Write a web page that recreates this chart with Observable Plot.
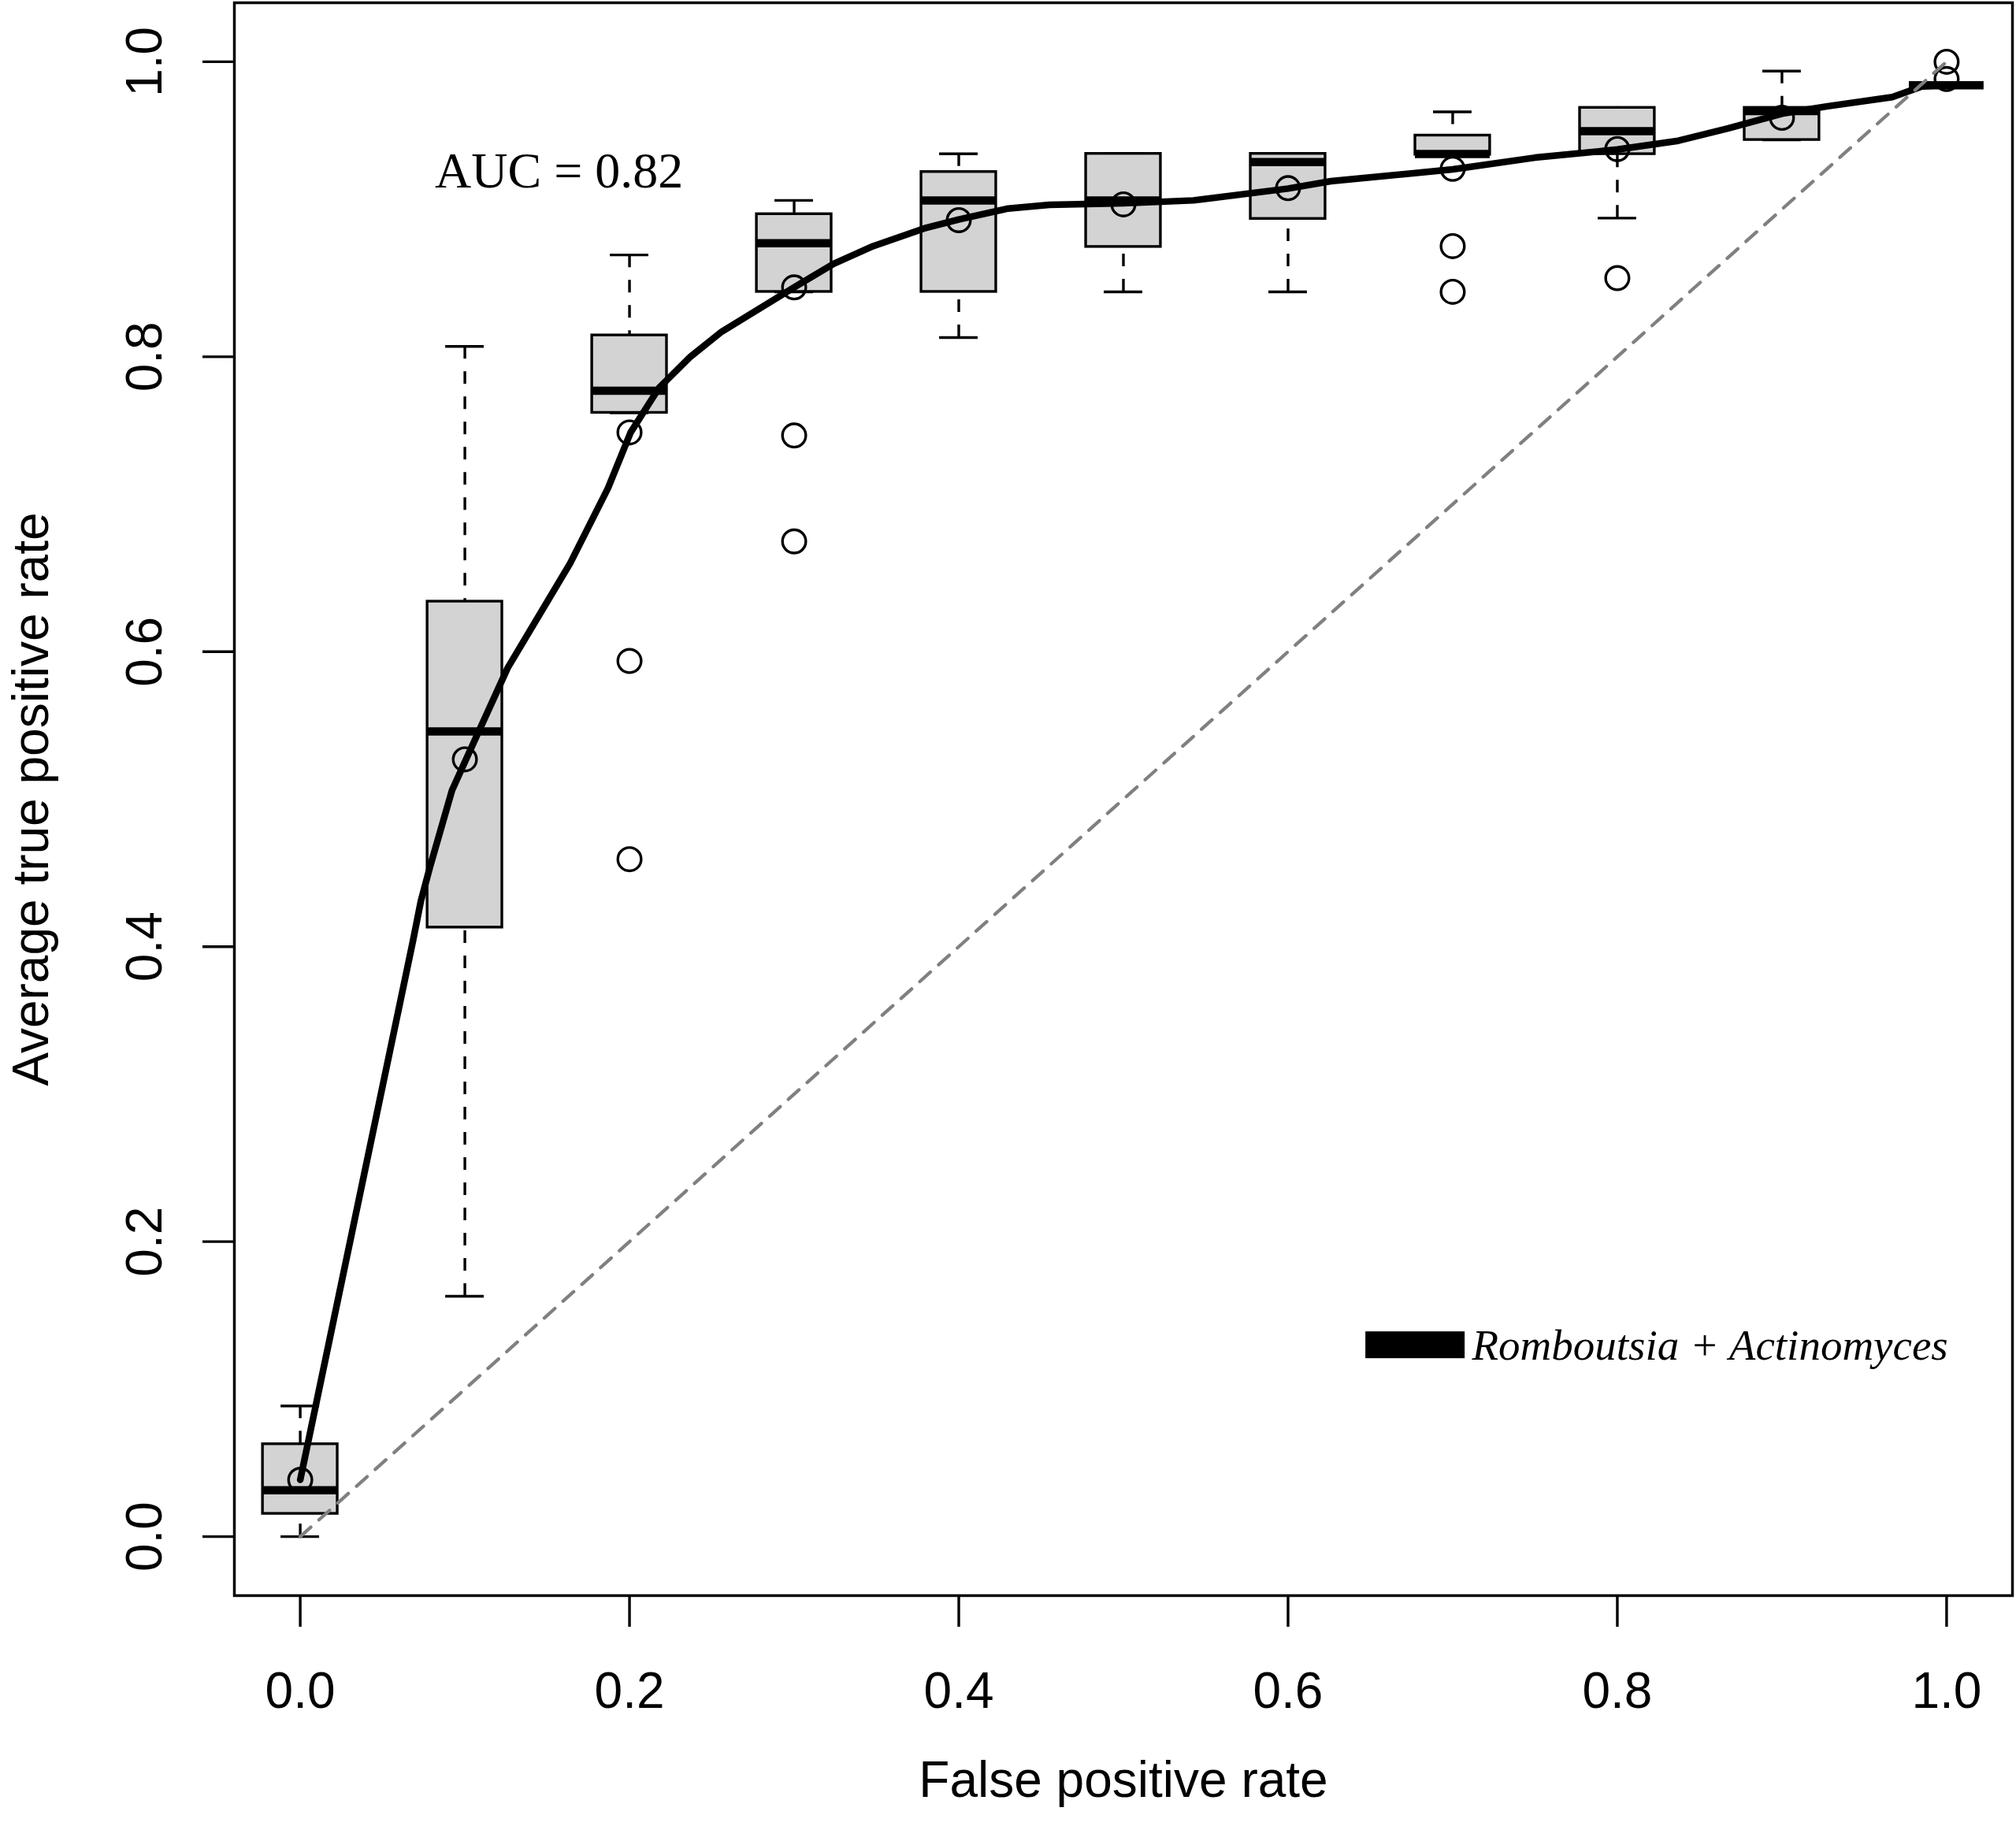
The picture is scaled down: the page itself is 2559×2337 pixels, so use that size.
<!DOCTYPE html>
<html>
<head>
<meta charset="utf-8">
<script src="https://cdn.jsdelivr.net/npm/d3@7"></script>
<script src="https://cdn.jsdelivr.net/npm/@observablehq/plot@0.6"></script>
<style>
  html, body { margin: 0; padding: 0; background: #fff; }
  #chart svg { display: block; }
</style>
</head>
<body>
<div id="chart"></div>
<script>
// ---- data ----
const fprLevels = [0.0, 0.1, 0.2, 0.3, 0.4, 0.5, 0.6, 0.7, 0.8, 0.9, 1.0];
const whiskerLow  = [0.000, 0.163, 0.762, 0.844, 0.813, 0.844, 0.844, 0.937, 0.894, 0.947, 0.984];
const boxQ1       = [0.0155, 0.413, 0.762, 0.844, 0.844, 0.8745, 0.8935, 0.937, 0.9374, 0.947, 0.984];
const boxMedian   = [0.0315, 0.546, 0.777, 0.877, 0.906, 0.906, 0.932, 0.9375, 0.953, 0.9665, 0.984];
const boxQ3       = [0.0627, 0.634, 0.8145, 0.8967, 0.9253, 0.9376, 0.9376, 0.950, 0.9688, 0.9688, 0.984];
const whiskerHigh = [0.0886, 0.807, 0.869, 0.906, 0.9376, 0.9376, 0.9376, 0.966, 0.9688, 0.9937, 0.984];
const meanTPR     = [0.0385, 0.527, 0.7487, 0.847, 0.8926, 0.9033, 0.9143, 0.9274, 0.9408, 0.962, 0.9883];

const outlierFPR = [0.2, 0.2, 0.3, 0.3, 0.7, 0.7, 0.8, 1.0];
const outlierTPR = [0.5937, 0.4593, 0.7466, 0.6748, 0.875, 0.844, 0.8533, 1.000];

const curveFPR = [0, 0.0685, 0.0733, 0.0788, 0.0922, 0.1007, 0.126, 0.164, 0.187, 0.2007,
  0.218, 0.237, 0.256, 0.3005, 0.324, 0.348, 0.379, 0.400, 0.430, 0.455, 0.500, 0.5425, 0.600, 0.626,
  0.700, 0.750, 0.800, 0.837, 0.867, 0.900, 0.927, 0.967, 0.985, 1.000];
const curveTPR = [0.0385, 0.404, 0.431, 0.454, 0.506, 0.527, 0.589, 0.660, 0.711, 0.7487,
  0.779, 0.800, 0.817, 0.8474, 0.863, 0.875, 0.887, 0.893, 0.9005, 0.903, 0.904, 0.906, 0.914, 0.919,
  0.927, 0.935, 0.9405, 0.9464, 0.9547, 0.9648, 0.9697, 0.976, 0.9832, 0.9843];

const diagFPR = [0, 1];
const diagTPR = [0, 1];

const tickValues = [0, 0.2, 0.4, 0.6, 0.8, 1.0];
const aucLabel = "AUC = 0.82";
const legendLabel = "Romboutsia + Actinomyces";
const xTitle = "False positive rate";
const yTitle = "Average true positive rate";

// ---- tables built from arrays ----
const boxes = fprLevels.map((x, i) => ({
  x, lo: whiskerLow[i], q1: boxQ1[i], med: boxMedian[i], q3: boxQ3[i], hi: whiskerHigh[i]
}));
const means = fprLevels.map((x, i) => ({x, y: meanTPR[i]}));
const outliers = outlierFPR.map((x, i) => ({x, y: outlierTPR[i]}));
const curve = curveFPR.map((x, i) => ({x, y: curveTPR[i]}));
const diag = diagFPR.map((x, i) => ({x, y: diagTPR[i]}));

const BW = 0.0227;   // half box width (data units)
const CW = 0.0117;   // half staple width
const LW = 3.4;      // base line width
const fmt = d3.format(".1f");

const chart = Plot.plot({
  width: 2559,
  height: 2337,
  marginLeft: 297,
  marginRight: 5,
  marginTop: 3,
  marginBottom: 312,
  x: {domain: [-0.04, 1.04]},
  y: {domain: [-0.04, 1.04]},
  style: {background: "#fff", fontFamily: "'Liberation Sans', Arial, Helvetica, sans-serif", color: "#000"},
  marks: [
    // boxes
    Plot.ruleX(boxes, {x: "x", y1: "hi", y2: "q3", stroke: "#000", strokeWidth: LW, strokeDasharray: "16,16"}),
    Plot.ruleX(boxes, {x: "x", y1: "lo", y2: "q1", stroke: "#000", strokeWidth: LW, strokeDasharray: "16,16"}),
    Plot.ruleY(boxes, {y: "hi", x1: d => d.x - CW, x2: d => d.x + CW, stroke: "#000", strokeWidth: LW}),
    Plot.ruleY(boxes, {y: "lo", x1: d => d.x - CW, x2: d => d.x + CW, stroke: "#000", strokeWidth: LW}),
    Plot.rect(boxes, {x1: d => d.x - BW, x2: d => d.x + BW, y1: "q1", y2: "q3", fill: "#d3d3d3", stroke: "#000", strokeWidth: LW}),
    Plot.ruleY(boxes, {y: "med", x1: d => d.x - BW, x2: d => d.x + BW, stroke: "#000", strokeWidth: 10.5}),
    Plot.dot(outliers, {x: "x", y: "y", r: 14.8, stroke: "#000", strokeWidth: LW, fill: "none"}),
    // mean curve
    Plot.line(curve, {x: "x", y: "y", stroke: "#000", strokeWidth: 8.5, strokeLinejoin: "round", strokeLinecap: "round"}),
    Plot.dot(means, {x: "x", y: "y", r: 14.8, stroke: "#000", strokeWidth: LW, fill: "none"}),
    // chance diagonal
    Plot.line(diag, {x: "x", y: "y", stroke: "#808080", strokeWidth: 4.3, strokeDasharray: "18,14"}),
    // annotations
    Plot.text([aucLabel], {x: 0.1572, y: 0.915, text: d => d, lineAnchor: "bottom", textAnchor: "middle",
      fontFamily: "'Liberation Serif', 'Times New Roman', serif", fontSize: 64, fill: "#000"}),
    Plot.rect([legendLabel], {x1: 0.6472, x2: 0.7075, y1: 0.1207, y2: 0.1389, fill: "#000"}),
    Plot.text([legendLabel], {x: 0.7117, y: 0.1202, text: d => d, lineAnchor: "bottom", textAnchor: "start",
      fontFamily: "'Liberation Serif', 'Times New Roman', serif", fontStyle: "italic", fontSize: 55, fill: "#000"}),
    // axes
    Plot.axisX({ticks: tickValues, tickFormat: fmt, tickSize: 40, tickPadding: 56.6, fontSize: 64, strokeWidth: LW, label: null}),
    Plot.axisY({ticks: tickValues, tickFormat: fmt, tickSize: 40, tickPadding: 53, tickRotate: -90, fontSize: 64, strokeWidth: LW, label: null}),
    Plot.text([xTitle], {frameAnchor: "bottom", dy: 255, lineAnchor: "bottom", textAnchor: "middle", text: d => d, fontSize: 64, fill: "#000"}),
    Plot.text([yTitle], {frameAnchor: "left", dx: -237, rotate: -90, lineAnchor: "bottom", textAnchor: "middle", text: d => d, fontSize: 64, fill: "#000"}),
    Plot.frame({stroke: "#000", strokeWidth: 3.5})
  ]
});
document.getElementById("chart").appendChild(chart);
</script>
</body>
</html>
